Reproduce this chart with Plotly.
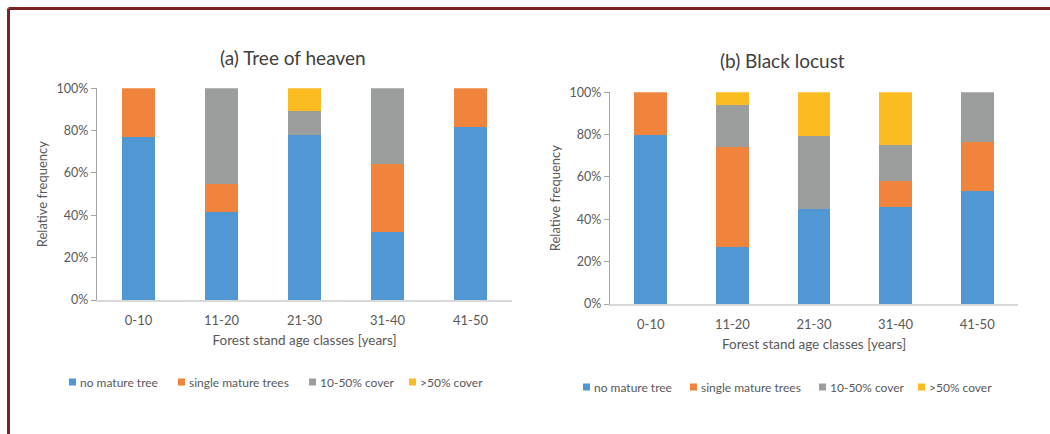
import plotly.graph_objects as go

W, H = 1050, 434

categories = ["0-10", "11-20", "21-30", "31-40", "41-50"]
series_names = ["no mature tree", "single mature trees", "10-50% cover", ">50% cover"]

# (a) Tree of heaven – relative frequencies (%)
heaven_none = [77.2, 41.7, 77.8, 32.3, 81.7]
heaven_single = [22.8, 13.1, 0.0, 32.0, 18.3]
heaven_10_50 = [0.0, 45.2, 11.5, 35.7, 0.0]
heaven_gt50 = [0.0, 0.0, 10.7, 0.0, 0.0]

# (b) Black locust – relative frequencies (%)
locust_none = [80.0, 27.1, 44.7, 46.0, 53.5]
locust_single = [20.0, 46.9, 0.0, 12.3, 23.2]
locust_10_50 = [0.0, 20.2, 34.7, 17.0, 23.3]
locust_gt50 = [0.0, 5.8, 20.6, 24.7, 0.0]

titles = ["(a) Tree of heaven", "(b) Black locust"]
x_title = "Forest stand age classes [years]"
y_title = "Relative frequency"

colors = ["#5097D3", "#F0843C", "#9C9E9E", "#FBBC22"]
FONT = "Lato, 'Open Sans', sans-serif"
TXT = "#595959"


def px_x(p):
    return p / W


def px_y(p):
    return 1 - p / H


fig = go.Figure()

panels = [
    ([heaven_none, heaven_single, heaven_10_50, heaven_gt50], "x", "y", 0.39),
    ([locust_none, locust_single, locust_10_50, locust_gt50], "x2", "y2", 0.40),
]
for vals, xa, ya, bw in panels:
    for name, v, c in zip(series_names, vals, colors):
        fig.add_trace(go.Bar(
            x=categories, y=[t / 100 for t in v], name=name,
            marker=dict(color=c, line=dict(width=0)),
            width=bw, xaxis=xa, yaxis=ya, showlegend=False,
        ))

axis_common = dict(automargin=False)
xcommon = dict(type="category", showline=True, linecolor="#D9D9D9", linewidth=1.5,
               ticks="", showgrid=False, zeroline=False, ticklabelstandoff=8,
               tickfont=dict(family=FONT, size=13, color=TXT),
               title=dict(text=x_title, font=dict(family=FONT, size=13.5, color=TXT), standoff=8),
               **axis_common)
ycommon = dict(range=[0, 1], tickvals=[0, 0.2, 0.4, 0.6, 0.8, 1.0], tickformat=".0%",
               showline=True, linecolor="#A6A6A6", linewidth=1.2,
               ticks="outside", ticklen=5, tickcolor="#A6A6A6", tickwidth=1.2,
               showgrid=False, zeroline=False,
               tickfont=dict(family=FONT, size=12.5, color=TXT),
               title=dict(text=y_title, font=dict(family=FONT, size=13, color=TXT), standoff=6),
               **axis_common)

fig.update_layout(
    xaxis=dict(domain=[px_x(97), px_x(512)], anchor="y", **xcommon),
    yaxis=dict(domain=[px_y(300), px_y(88.3)], anchor="x", **ycommon),
    xaxis2=dict(domain=[px_x(610), px_x(1018)], anchor="y2", **xcommon),
    yaxis2=dict(domain=[px_y(304), px_y(92.3)], anchor="x2", **ycommon),
    barmode="stack",
    width=W, height=H,
    margin=dict(l=0, r=0, t=0, b=0),
    paper_bgcolor="white", plot_bgcolor="white",
    font=dict(family=FONT, color=TXT),
)

# Titles
for text, cx, cy in [(titles[0], 293, 58), (titles[1], 782, 60)]:
    fig.add_annotation(text=text, x=px_x(cx), y=px_y(cy), xref="paper", yref="paper",
                       xanchor="center", yanchor="middle", showarrow=False,
                       font=dict(family=FONT, size=19, color="#404040"))

# Legends (square marker + label)
legend_pos = [
    ([69, 178, 309, 409], 382),
    ([583, 690, 819, 918], 387),
]
for xs, cy in legend_pos:
    for name, c, lx in zip(series_names, colors, xs):
        fig.add_shape(type="rect", xref="paper", yref="paper",
                      x0=px_x(lx), x1=px_x(lx + 7), y0=px_y(cy + 3.5), y1=px_y(cy - 3.5),
                      fillcolor=c, line=dict(width=0))
        fig.add_annotation(text=name, x=px_x(lx + 9), y=px_y(cy), xref="paper", yref="paper",
                           xanchor="left", yanchor="middle", showarrow=False,
                           font=dict(family=FONT, size=12, color=TXT))

# Dark red frame (top and left edges)
frame = "#7A2424"
fig.add_shape(type="line", xref="paper", yref="paper", x0=px_x(8.5), x1=1, y0=px_y(8.5), y1=px_y(8.5),
              line=dict(color=frame, width=3))
fig.add_shape(type="line", xref="paper", yref="paper", x0=px_x(8.5), x1=px_x(8.5), y0=px_y(8.5), y1=0,
              line=dict(color=frame, width=3))

fig.write_html("out.html")
